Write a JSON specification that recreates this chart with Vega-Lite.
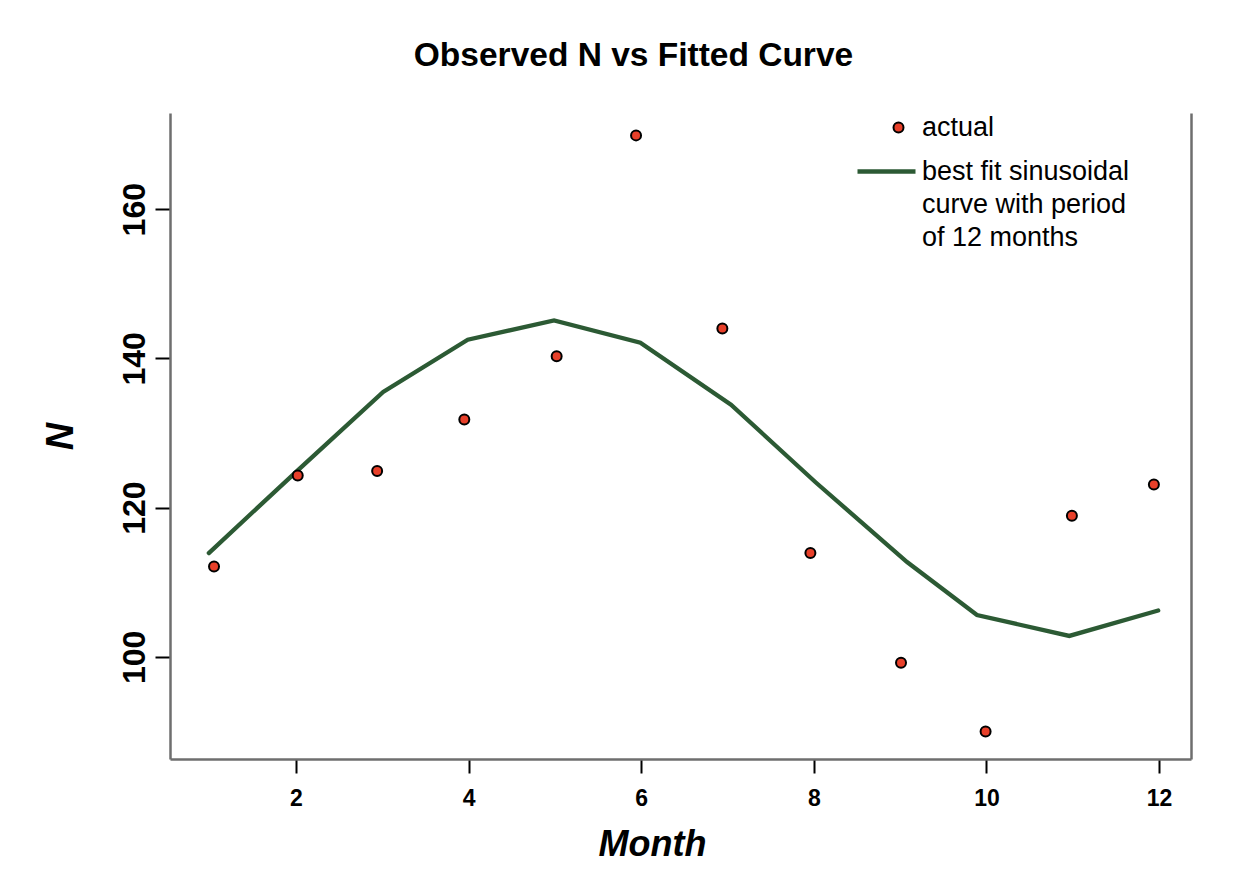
{
  "$schema": "https://vega.github.io/schema/vega-lite/v6.json",
  "width": 1021,
  "height": 646,
  "autosize": {"type": "none"},
  "padding": {"left": 170, "top": 113, "right": 58, "bottom": 125},
  "background": "white",
  "title": {
    "text": "Observed N vs Fitted Curve",
    "font": "Liberation Sans",
    "fontSize": 33.5,
    "fontWeight": "bold",
    "color": "black",
    "anchor": "middle",
    "frame": "group",
    "dx": -47,
    "baseline": "alphabetic",
    "offset": 14
  },
  "datasets": {
    "actual": [
      {"month": 1.05, "N": 112.1},
      {"month": 2.02, "N": 124.3},
      {"month": 2.94, "N": 124.9},
      {"month": 3.95, "N": 131.8},
      {"month": 5.02, "N": 140.3},
      {"month": 5.94, "N": 169.9},
      {"month": 6.94, "N": 144.0},
      {"month": 7.96, "N": 113.9},
      {"month": 9.01, "N": 99.2},
      {"month": 9.99, "N": 90.0},
      {"month": 10.99, "N": 118.9},
      {"month": 11.94, "N": 123.1}
    ],
    "fit": [
      {"month": 0.99, "N": 113.9},
      {"month": 2.02, "N": 125.0},
      {"month": 3.01, "N": 135.5},
      {"month": 3.99, "N": 142.5},
      {"month": 4.99, "N": 145.1},
      {"month": 5.99, "N": 142.1},
      {"month": 7.04, "N": 133.8},
      {"month": 8.02, "N": 123.4},
      {"month": 9.08, "N": 112.7},
      {"month": 9.89, "N": 105.6},
      {"month": 10.96, "N": 102.8},
      {"month": 11.99, "N": 106.2}
    ]
  },
  "layer": [
    {
      "data": {"name": "fit"},
      "mark": {"type": "line", "strokeWidth": 4.3, "strokeCap": "round", "strokeJoin": "miter"},
      "encoding": {
        "x": {
          "field": "month", "type": "quantitative",
          "scale": {"domain": [0.54, 12.37], "nice": false, "zero": false},
          "axis": {
            "values": [2, 4, 6, 8, 10, 12],
            "format": "d",
            "title": "Month",
            "titleX": 482,
            "grid": false,
            "domainColor": "#6e6e6e", "domainWidth": 2.5,
            "tickColor": "black", "tickWidth": 2, "tickSize": 14,
            "labelFont": "Liberation Sans", "labelFontSize": 23, "labelFontWeight": "bold", "labelColor": "black",
            "labelPadding": 14,
            "titleFont": "Liberation Sans", "titleFontSize": 36, "titleFontWeight": "bold", "titleFontStyle": "italic", "titleColor": "black",
            "titlePadding": 17
          }
        },
        "y": {
          "field": "N", "type": "quantitative",
          "scale": {"domain": [86.3, 172.9], "nice": false, "zero": false},
          "axis": {
            "orient": "left",
            "values": [100, 120, 140, 160],
            "title": "N",
            "grid": false,
            "domainColor": "#6e6e6e", "domainWidth": 2.5,
            "tickColor": "black", "tickWidth": 2, "tickSize": 15,
            "labelFont": "Liberation Sans", "labelFontSize": 32, "labelFontWeight": "bold", "labelColor": "black",
            "labelAngle": -90, "labelPadding": 4,
            "titleFont": "Liberation Sans", "titleFontSize": 38, "titleFontWeight": "bold", "titleFontStyle": "italic", "titleColor": "black",
            "titlePadding": 38
          }
        },
        "stroke": {
          "datum": "best fit sinusoidal curve with period of 12 months",
          "type": "nominal",
          "scale": {"range": ["#2c5a34"]},
          "legend": {
            "orient": "none", "legendX": 685, "legendY": 27,
            "title": null,
            "symbolType": "stroke", "symbolSize": 3364, "symbolStrokeWidth": 4.3,
            "labelFont": "Liberation Sans", "labelFontSize": 27, "labelColor": "black",
            "labelOffset": 4, "labelLimit": 600, "labelBaseline": "middle",
            "labelExpr": "['\u00a0best fit sinusoidal', 'curve with period', 'of 12 months']"
          }
        }
      }
    },
    {
      "data": {"name": "actual"},
      "mark": {"type": "circle", "size": 100, "stroke": "black", "strokeWidth": 2, "opacity": 1},
      "encoding": {
        "x": {"field": "month", "type": "quantitative"},
        "y": {
          "field": "N", "type": "quantitative",
          "axis": {"orient": "right", "labels": false, "ticks": false, "title": null, "grid": false, "domainColor": "#6e6e6e", "domainWidth": 2.5}
        },
        "fill": {
          "datum": "actual",
          "type": "nominal",
          "scale": {"range": ["#e8402a"]},
          "legend": {
            "orient": "none", "legendX": 715, "legendY": 1,
            "title": null,
            "symbolType": "circle", "symbolSize": 100, "symbolStrokeColor": "black", "symbolStrokeWidth": 2, "symbolOpacity": 1,
            "labelFont": "Liberation Sans", "labelFontSize": 27, "labelColor": "black",
            "labelOffset": 10, "labelLimit": 600
          }
        }
      }
    }
  ],
  "resolve": {"axis": {"y": "independent"}},
  "config": {
    "view": {"stroke": null},
    "style": {"guide-label": {"lineHeight": 33}}
  }
}
